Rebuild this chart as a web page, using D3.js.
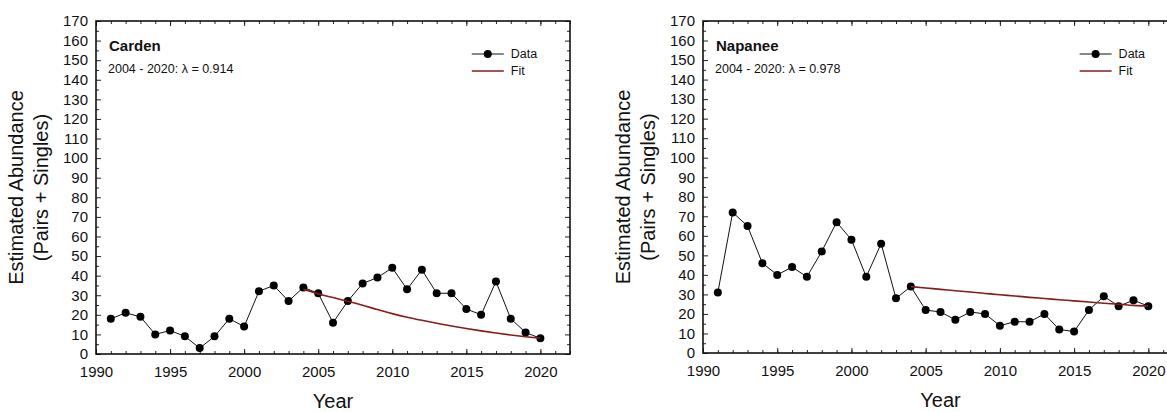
<!DOCTYPE html>
<html>
<head>
<meta charset="utf-8">
<script src="https://cdn.jsdelivr.net/npm/d3@7"></script>
<style>
  body { margin: 0; background: #fff; }
  #chart { width: 1167px; height: 412px; }
  text { font-family: Arial, "Liberation Sans", sans-serif; fill: #111; }
</style>
</head>
<body>
<div id="chart"></div>
<script>
// survey years
var years = d3.range(1991, 2021);

// estimated abundance per year
var cardenCounts = [18, 21, 19, 10, 12, 9, 3, 9, 18, 14,
                    32, 35, 27, 34, 31, 16, 27, 36, 39, 44,
                    33, 43, 31, 31, 23, 20, 37, 18, 11, 8];
var napaneeCounts = [31, 72, 65, 46, 40, 44, 39, 52, 67, 58,
                     39, 56, 28, 34, 22, 21, 17, 21, 20, 14,
                     16, 16, 20, 12, 11, 22, 29, 24, 27, 24];

// fitted trend 2004-2020
var fitYears = d3.range(2004, 2021);
var cardenFit = [33, 30.8, 28.8, 26.9, 24.9, 22.7, 20.6, 18.8, 17.2, 15.7,
                 14.3, 13.0, 11.8, 10.7, 9.7, 8.8, 8.0];
var napaneeFit = [34, 33.3, 32.6, 31.9, 31.2, 30.5, 29.8, 29.2, 28.5, 27.9,
                  27.3, 26.7, 26.1, 25.5, 25.0, 24.4, 24.0];

var xTicks = [1990, 1995, 2000, 2005, 2010, 2015, 2020];
var yTicks = d3.range(0, 171, 10);

var width = 1167, height = 412;
var fitColor = "#861c1c";

var svg = d3.select("#chart")
    .append("svg")
    .attr("width", width)
    .attr("height", height);

function drawPanel(left, right, top, bottom, name, lambdaText, counts, fit) {

    var x = d3.scaleLinear().domain([1990, 2022]).range([left, right]);
    var y = d3.scaleLinear().domain([0, 170]).range([bottom, top]);

    var g = svg.append("g");

    // minor ticks
    g.append("g").attr("transform", "translate(0," + bottom + ")")
        .call(d3.axisBottom(x).tickValues(d3.range(1990, 2023)).tickSize(-3).tickFormat(""));
    g.append("g").attr("transform", "translate(0," + top + ")")
        .call(d3.axisTop(x).tickValues(d3.range(1990, 2023)).tickSize(-3).tickFormat(""));
    g.append("g").attr("transform", "translate(" + left + ",0)")
        .call(d3.axisLeft(y).tickValues(d3.range(5, 170, 10)).tickSize(-3).tickFormat(""));
    g.append("g").attr("transform", "translate(" + right + ",0)")
        .call(d3.axisRight(y).tickValues(d3.range(5, 170, 10)).tickSize(-3).tickFormat(""));

    // major ticks
    g.append("g").attr("transform", "translate(0," + bottom + ")")
        .call(d3.axisBottom(x).tickValues(xTicks).tickSize(-5).tickPadding(12).tickFormat(d3.format("d")));
    g.append("g").attr("transform", "translate(0," + top + ")")
        .call(d3.axisTop(x).tickValues(xTicks).tickSize(-5).tickFormat(""));
    g.append("g").attr("transform", "translate(" + left + ",0)")
        .call(d3.axisLeft(y).tickValues(yTicks).tickSize(-5).tickPadding(8));
    g.append("g").attr("transform", "translate(" + right + ",0)")
        .call(d3.axisRight(y).tickValues(yTicks).tickSize(-5).tickFormat(""));

    g.selectAll(".domain").remove();
    g.selectAll(".tick line").attr("stroke", "#222");
    g.selectAll(".tick text")
        .attr("font-size", 15)
        .attr("font-family", "Arial, 'Liberation Sans', sans-serif")
        .attr("fill", "#222");

    // frame
    g.append("rect")
        .attr("x", left).attr("y", top)
        .attr("width", right - left).attr("height", bottom - top)
        .attr("fill", "none")
        .attr("stroke", "#111")
        .attr("stroke-width", 1.6);

    // data line + points
    var line = d3.line()
        .x(function(d, i) { return x(years[i]); })
        .y(function(d) { return y(d); });

    g.append("path")
        .datum(counts)
        .attr("d", line)
        .attr("fill", "none")
        .attr("stroke", "#111")
        .attr("stroke-width", 1);

    g.selectAll("circle.pt")
        .data(counts)
        .enter()
        .append("circle")
        .attr("class", "pt")
        .attr("cx", function(d, i) { return x(years[i]); })
        .attr("cy", function(d) { return y(d); })
        .attr("r", 4)
        .attr("fill", "#000");

    // fit
    var fitLine = d3.line()
        .x(function(d, i) { return x(fitYears[i]); })
        .y(function(d) { return y(d); })
        .curve(d3.curveMonotoneX);

    g.append("path")
        .datum(fit)
        .attr("d", fitLine)
        .attr("fill", "none")
        .attr("stroke", fitColor)
        .attr("stroke-width", 1.6);

    // labels
    g.append("text")
        .attr("x", left + 13).attr("y", top + 30)
        .attr("font-size", 15).attr("font-weight", "bold")
        .text(name);
    g.append("text")
        .attr("x", left + 12).attr("y", top + 52)
        .attr("font-size", 12.5)
        .text(lambdaText);

    var yt = g.append("text")
        .attr("transform", "translate(" + (left - 80) + "," + ((top + bottom) / 2) + ") rotate(-90)")
        .attr("text-anchor", "middle")
        .attr("font-size", 20);
    yt.append("tspan").attr("x", 0).attr("dy", "0.35em").text("Estimated Abundance");
    yt.append("tspan").attr("x", 0).attr("dy", 25).text("(Pairs + Singles)");

    g.append("text")
        .attr("x", (left + right) / 2).attr("y", bottom + 54)
        .attr("text-anchor", "middle")
        .attr("font-size", 20)
        .text("Year");

    // legend
    var lx = x(2016.45), ly = top + 33;
    g.append("line")
        .attr("x1", lx - 16).attr("x2", lx + 16)
        .attr("y1", ly).attr("y2", ly)
        .attr("stroke", "#111");
    g.append("circle").attr("cx", lx).attr("cy", ly).attr("r", 4).attr("fill", "#000");
    g.append("text").attr("x", lx + 23).attr("y", ly).attr("dy", "0.35em")
        .attr("font-size", 12.5).text("Data");
    g.append("line")
        .attr("x1", lx - 16).attr("x2", lx + 16)
        .attr("y1", ly + 17).attr("y2", ly + 17)
        .attr("stroke", fitColor).attr("stroke-width", 1.6);
    g.append("text").attr("x", lx + 23).attr("y", ly + 17).attr("dy", "0.35em")
        .attr("font-size", 12.5).text("Fit");
}

drawPanel(96, 570, 21, 354, "Carden", "2004 - 2020: \u03BB = 0.914", cardenCounts, cardenFit);
drawPanel(703, 1178, 21, 353, "Napanee", "2004 - 2020: \u03BB = 0.978", napaneeCounts, napaneeFit);
</script>
</body>
</html>
